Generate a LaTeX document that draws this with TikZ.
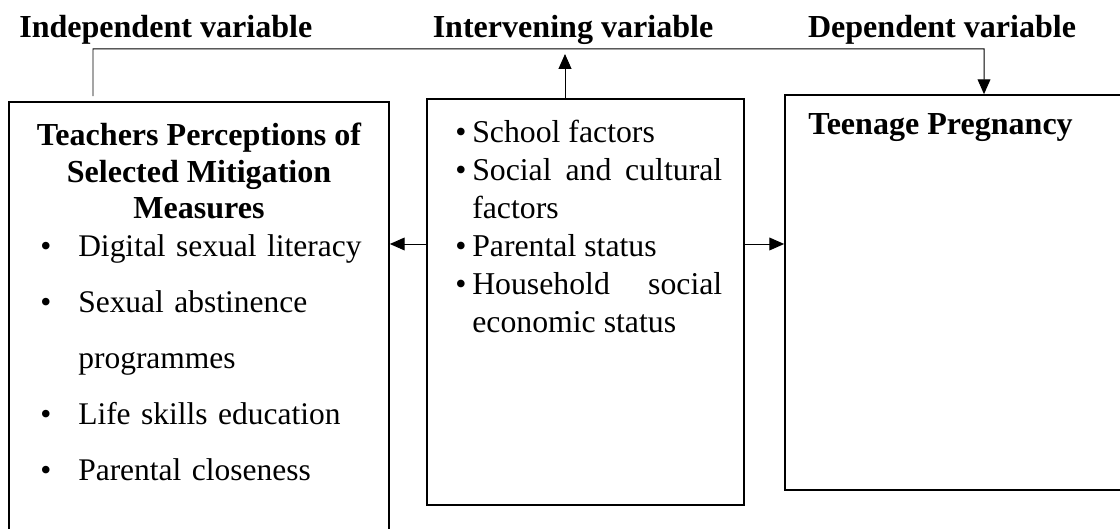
\documentclass[tikz,border=0pt]{standalone}
\usepackage{fontspec}
\setmainfont{Liberation Serif}
\usetikzlibrary{arrows.meta,positioning}

\hyphenpenalty=10000
\exhyphenpenalty=10000

% bullet item with a hanging indent of #1
\newcommand{\bulletitem}[2]{\noindent\hangindent=#1\hangafter=1\makebox[#1][l]{\textbullet}#2\par}

\begin{document}
\begin{tikzpicture}[
          box/.style={rectangle, draw, line width=1.2pt, inner sep=0pt},
          label/.style={font=\fontsize{22.8}{25.6}\selectfont\bfseries, inner sep=0pt},
          items/.style={inner sep=0pt, font=\fontsize{22.6}{27}\selectfont},
          arrow/.style={-{Triangle[length=0.37cm, width=0.32cm]}, line width=0.7pt}
        ]
          \useasboundingbox (0,0) rectangle (28,13.225);

          % variable titles
          \node[label, anchor=base west] (indeptitle) at (0.475,12.275) {Independent variable};
          \node[label, anchor=base] (midtitle) at (14.325,12.275) {Intervening variable};
          \node[label, anchor=base] (deptitle) at (23.55,12.275) {Dependent variable};

          % boxes
          \node[box, minimum width=9.5cm, minimum height=11.175cm] (indep) at (4.975,5.0875) {};
          \node[box, minimum width=7.925cm, minimum height=10.15cm] (mid) at (14.6375,5.675) {};
          \node[box, minimum width=8.675cm, minimum height=9.875cm] (dep) at (23.9625,5.9125) {};

          % independent variable
          \node[label, font=\fontsize{22.8}{26.2}\selectfont\bfseries, anchor=base, align=center] (indephead) at (4.975,7.75)
            {Teachers Perceptions of\\Selected Mitigation\\Measures};
          \node[items, font=\fontsize{22.4}{39.8}\selectfont, anchor=base west, text width=8.6cm, align=left] (indeplist) at (1.0,6.82)
            {\bulletitem{0.95cm}{Digital sexual literacy}
             \bulletitem{0.95cm}{Sexual abstinence programmes}
             \bulletitem{0.95cm}{Life skills education}
             \bulletitem{0.95cm}{Parental closeness}};

          % intervening variable
          \node[items, anchor=base west, text width=6.675cm, align=justify] (midlist) at (11.375,9.65)
            {\tolerance=9999
             \bulletitem{0.425cm}{School factors}
             \bulletitem{0.425cm}{Social and cultural factors}
             \bulletitem{0.425cm}{Parental status}
             \bulletitem{0.425cm}{Household social economic status}};

          % dependent variable
          \node[label, anchor=base west] (dephead) at (20.2,9.85) {Teenage Pregnancy};

          % connectors
          \coordinate (bend) at (2.325,12);
          \coordinate (upend) at (14.125,11.875);
          \coordinate (link) at (14,7.125);
          \draw[arrow] ([xshift=-2.65cm, yshift=0.125cm]indep.north) -- (bend) -| ([xshift=0.6375cm]dep.north);
          \draw[arrow] (mid.north -| upend) -- (upend);
          \draw[arrow] (mid.west |- link) -- (indep.east |- link);
          \draw[arrow] (mid.east |- link) -- (dep.west |- link);

        \end{tikzpicture}
\end{document}
